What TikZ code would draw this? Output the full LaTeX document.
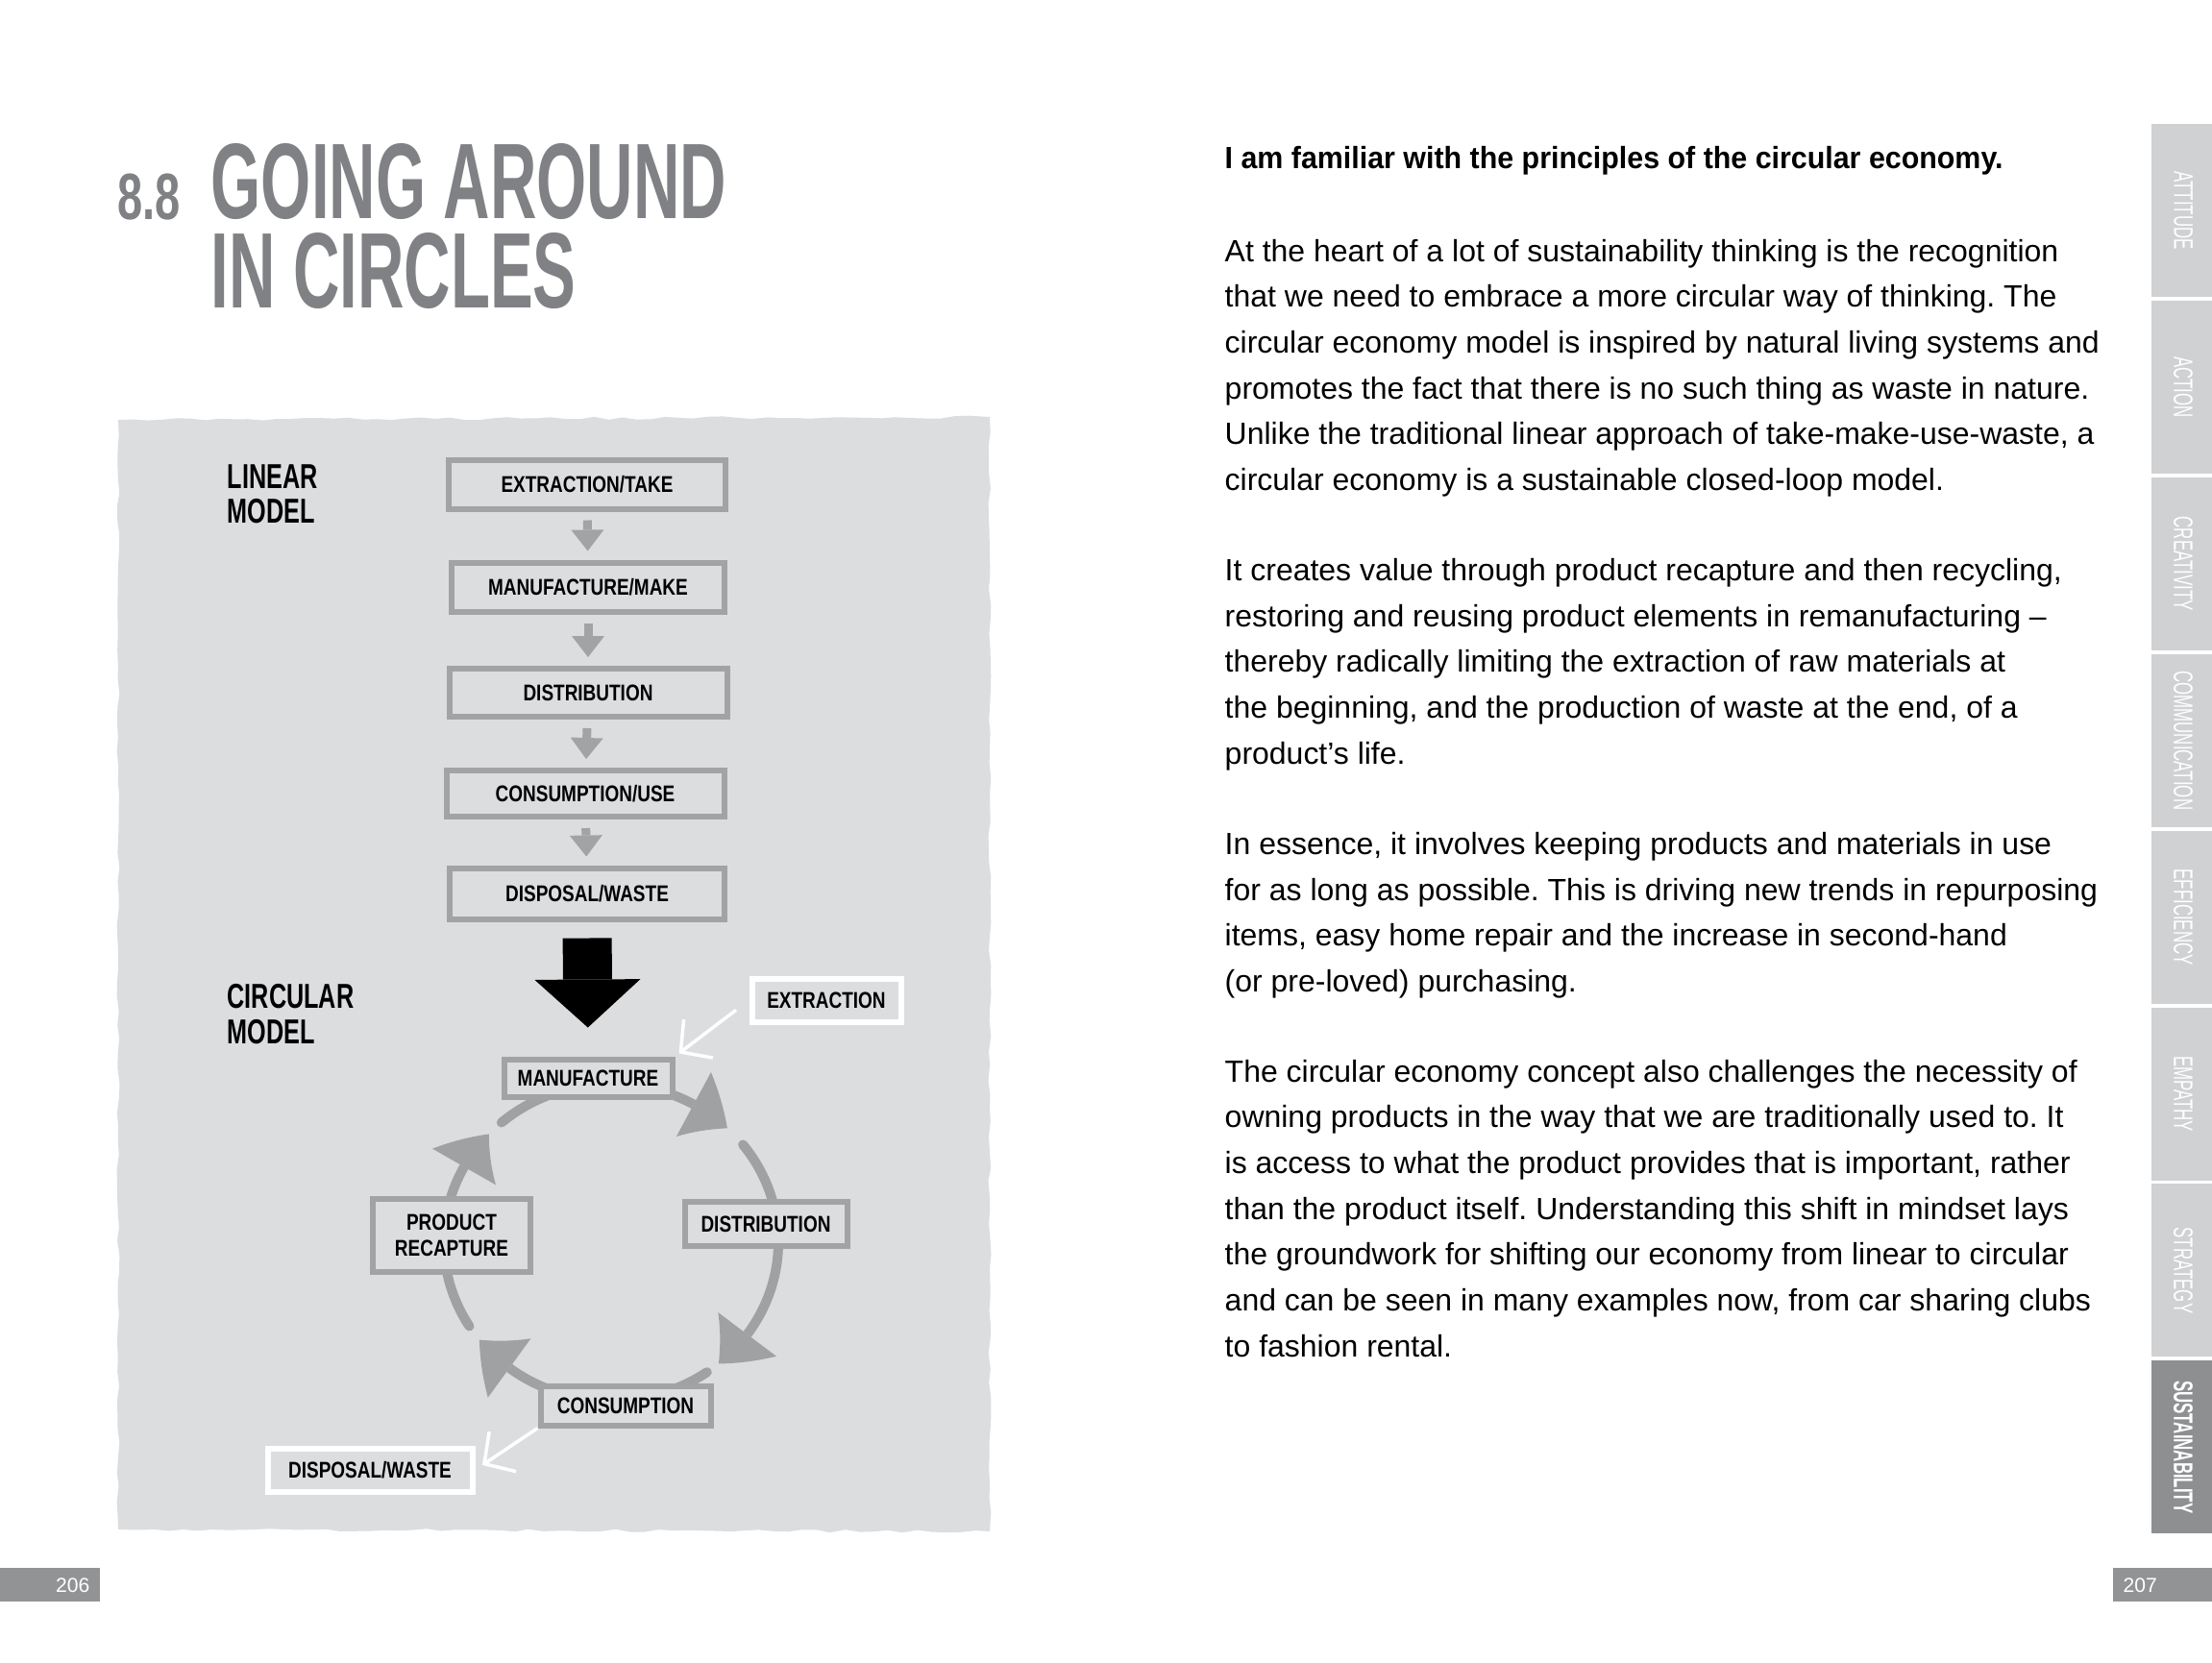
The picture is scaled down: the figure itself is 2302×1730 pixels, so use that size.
\documentclass[tikz,border=0pt]{standalone}
\usepackage{fontspec}
\setmainfont{Liberation Sans}
\newfontfamily\bodyfont{Liberation Sans}
\newfontfamily\headfont[FakeStretch=0.95]{Liberation Sans}
\newfontfamily\labfont[FakeStretch=0.8]{Liberation Sans}
\newfontfamily\modfont[FakeStretch=0.7]{Liberation Sans}
\newfontfamily\titfont[FakeStretch=0.6]{Liberation Sans}
\newfontfamily\numfont[FakeStretch=0.69]{Liberation Sans}
\newfontfamily\tabfont[FakeStretch=0.6]{Liberation Sans}
\usetikzlibrary{arrows.meta,bending,decorations.pathmorphing}
\definecolor{panel}{HTML}{DCDDDF}
\definecolor{boxgrey}{HTML}{A2A3A5}
\definecolor{cgrey}{HTML}{A0A1A3}
\definecolor{titgrey}{HTML}{808184}
\definecolor{tablight}{HTML}{D0D1D3}
\definecolor{tabdark}{HTML}{8E8F91}
\definecolor{pnum}{HTML}{929395}
\frenchspacing
\begin{document}
\begin{tikzpicture}[x=0.1mm,y=-0.1mm,
  body/.style={anchor=base west, inner sep=0pt, font=\bodyfont\fontsize{9.1}{11}\selectfont},
  lbox/.style={draw=boxgrey, line width=0.6mm, fill=panel, inner sep=0pt,
    font=\labfont\bfseries\fontsize{6.75}{7.6}\selectfont, align=center},
  wbox/.style={lbox, draw=white},
  model/.style={anchor=base west, inner sep=0pt, font=\modfont\bfseries\fontsize{10.25}{10}\selectfont},
  sarrow/.style={draw=boxgrey, line width=0.9mm, shorten <=0.9mm, shorten >=0.9mm,
    -{Triangle[length=2.2mm,width=3.4mm,line width=0pt]}},
  cyc/.style={draw=cgrey, line width=1mm, -{Triangle[length=4.3mm,width=7.6mm,line width=0pt,bend]}},
  cycl/.style={draw=cgrey, line width=1mm, line cap=round},
  warrow/.style={draw=white, line width=0.35mm, -{Straight Barb[length=2.3mm,width=5mm]}},
  tab/.style={rotate=-90, text=white, inner sep=0pt, font=\tabfont\fontsize{8}{8}\selectfont},
  pn/.style={text=white, inner sep=0pt, font=\bodyfont\fontsize{6}{6}\selectfont}
]
\useasboundingbox (0,0) rectangle (2302,1730);
\fill[white] (0,0) rectangle (2302,1730);

% ---------- title ----------
\node[anchor=base west, inner sep=0pt, text=titgrey, text depth=0pt, font=\numfont\bfseries\fontsize{19.4}{20}\selectfont] (num) at (122,228) {8.8};
\node[anchor=base west, inner sep=0pt, text=titgrey, align=left,
  font=\titfont\bfseries\fontsize{31.8}{26.2}\selectfont] (tit) at (219,320) {GOING AROUND\\IN CIRCLES};

% ---------- panel ----------
\pgfmathsetseed{7}
\fill[panel, decorate, decoration={random steps, segment length=1.5mm, amplitude=0.15mm}]
  (123,437) -- (1030,434) -- (1030,1594) -- (123,1592) -- cycle;

% ---------- linear model ----------
\node[model] (lin1) at (236,508) {LINEAR};
\node[model] (lin2) at (236,544) {MODEL};
\node[lbox, minimum width=28.8mm, minimum height=5.1mm] (l1) at (611,504) {EXTRACTION/TAKE};
\node[lbox, minimum width=28.4mm, minimum height=5.1mm] (l2) at (612,611) {MANUFACTURE/MAKE};
\node[lbox, minimum width=28.9mm, minimum height=5.0mm] (l3) at (612,721) {DISTRIBUTION};
\node[lbox, minimum width=28.9mm, minimum height=4.8mm] (l4) at (609,826) {CONSUMPTION/USE};
\node[lbox, minimum width=28.6mm, minimum height=5.3mm] (l5) at (611,930) {DISPOSAL/WASTE};
\draw[sarrow] (l1) -- (l2);
\draw[sarrow] (l2) -- (l3);
\draw[sarrow] (l3) -- (l4);
\draw[sarrow] (l4) -- (l5);

% ---------- circular model ----------
\node[model] (cir1) at (236,1049) {CIRCULAR};
\node[model] (cir2) at (236,1086) {MODEL};
\coordinate (cc) at (636,1293);
\draw[cyc]  (cc) ++(-90:174 and 165) arc[start angle=-90, end angle=-46, x radius=174, y radius=165];
\draw[cycl] (cc) ++(-38:174 and 165) arc[start angle=-38, end angle=0, x radius=174, y radius=165];
\draw[cyc]  (cc) ++(0:174 and 165) arc[start angle=0, end angle=50, x radius=174, y radius=165];
\draw[cycl] (cc) ++(55:174 and 165) arc[start angle=55, end angle=90, x radius=174, y radius=165];
\draw[cyc]  (cc) ++(90:174 and 165) arc[start angle=90, end angle=142, x radius=174, y radius=165];
\draw[cycl] (cc) ++(148:174 and 165) arc[start angle=148, end angle=180, x radius=174, y radius=165];
\draw[cyc]  (cc) ++(180:174 and 165) arc[start angle=180, end angle=223, x radius=174, y radius=165];
\draw[cycl] (cc) ++(229:174 and 165) arc[start angle=229, end angle=270, x radius=174, y radius=165];

\node[lbox, minimum width=17.5mm, minimum height=3.9mm] (mf) at (612,1122) {MANUFACTURE};
\node[lbox, minimum width=16.9mm, minimum height=4.6mm] (ds) at (797,1274) {DISTRIBUTION};
\node[lbox, minimum width=16.4mm, minimum height=7.6mm] (pr) at (470,1286) {PRODUCT\\RECAPTURE};
\node[lbox, minimum width=17.7mm, minimum height=4.1mm] (cs) at (651,1463) {CONSUMPTION};
\node[wbox, minimum width=15.5mm, minimum height=4.5mm] (ex) at (860,1041) {EXTRACTION};
\node[wbox, minimum width=21.3mm, minimum height=4.5mm] (dw) at (385,1530) {DISPOSAL/WASTE};

\draw[warrow, shorten <=1.7mm, shorten >=0.5mm] (ex.west) -- (mf.north east);
\draw[warrow, shorten >=0.9mm] (cs.south west) -- (dw.east);

% big black arrow
\draw[black, line width=5.1mm, shorten <=1.7mm, shorten >=3mm,
  -{Triangle[length=5mm,width=11mm,line width=0pt]}] (l5.south) -- (mf.north);

% ---------- right page ----------
\node[body, font=\headfont\bfseries\fontsize{9.1}{11}\selectfont] (hd) at (1274,175) {I am familiar with the principles of the circular economy.};

\node[body] (t1) at (1274,272) {At the heart of a lot of sustainability thinking is the recognition};
\node[body] (t2) at (1274,319.7) {that we need to embrace a more circular way of thinking. The};
\node[body] (t3) at (1274,367.4) {circular economy model is inspired by natural living systems and};
\node[body] (t4) at (1274,415.1) {promotes the fact that there is no such thing as waste in nature.};
\node[body] (t5) at (1274,462.8) {Unlike the traditional linear approach of take-make-use-waste, a};
\node[body] (t6) at (1274,510.5) {circular economy is a sustainable closed-loop model.};

\node[body] (t7) at (1274,604.5) {It creates value through product recapture and then recycling,};
\node[body] (t8) at (1274,652.2) {restoring and reusing product elements in remanufacturing –};
\node[body] (t9) at (1274,699.9) {thereby radically limiting the extraction of raw materials at};
\node[body] (t10) at (1274,747.6) {the beginning, and the production of waste at the end, of a};
\node[body] (t11) at (1274,795.3) {product’s life.};

\node[body] (t12) at (1274,889.4) {In essence, it involves keeping products and materials in use};
\node[body] (t13) at (1274,937.1) {for as long as possible. This is driving new trends in repurposing};
\node[body] (t14) at (1274,984.8) {items, easy home repair and the increase in second-hand};
\node[body] (t15) at (1274,1032.5) {(or pre-loved) purchasing.};

\node[body] (t16) at (1274,1126) {The circular economy concept also challenges the necessity of};
\node[body] (t17) at (1274,1173.7) {owning products in the way that we are traditionally used to. It};
\node[body] (t18) at (1274,1221.4) {is access to what the product provides that is important, rather};
\node[body] (t19) at (1274,1269.1) {than the product itself. Understanding this shift in mindset lays};
\node[body] (t20) at (1274,1316.8) {the groundwork for shifting our economy from linear to circular};
\node[body] (t21) at (1274,1364.5) {and can be seen in many examples now, from car sharing clubs};
\node[body] (t22) at (1274,1412.2) {to fashion rental.};

% ---------- tabs ----------
\foreach \lab [count=\i from 0] in {ATTITUDE,ACTION,CREATIVITY,COMMUNICATION,EFFICIENCY,EMPATHY,STRATEGY} {
  \fill[tablight] (2239,{129+183.9*\i}) rectangle (2302,{309+183.9*\i});
  \node[tab] (tab\i) at (2272,{219+183.9*\i}) {\lab};
}
\fill[tabdark] (2239,1416.3) rectangle (2302,1596.3);
\node[tab, font=\tabfont\bfseries\fontsize{8}{8}\selectfont] (tab7) at (2272,1506.3) {SUSTAINABILITY};

% ---------- page numbers ----------
\fill[pnum] (0,1632) rectangle (104,1667);
\node[pn, anchor=base east] (p206) at (94,1657) {206};
\fill[pnum] (2199,1632) rectangle (2302,1667);
\node[pn, anchor=base west] (p207) at (2209,1657) {207};
\end{tikzpicture}
\end{document}
